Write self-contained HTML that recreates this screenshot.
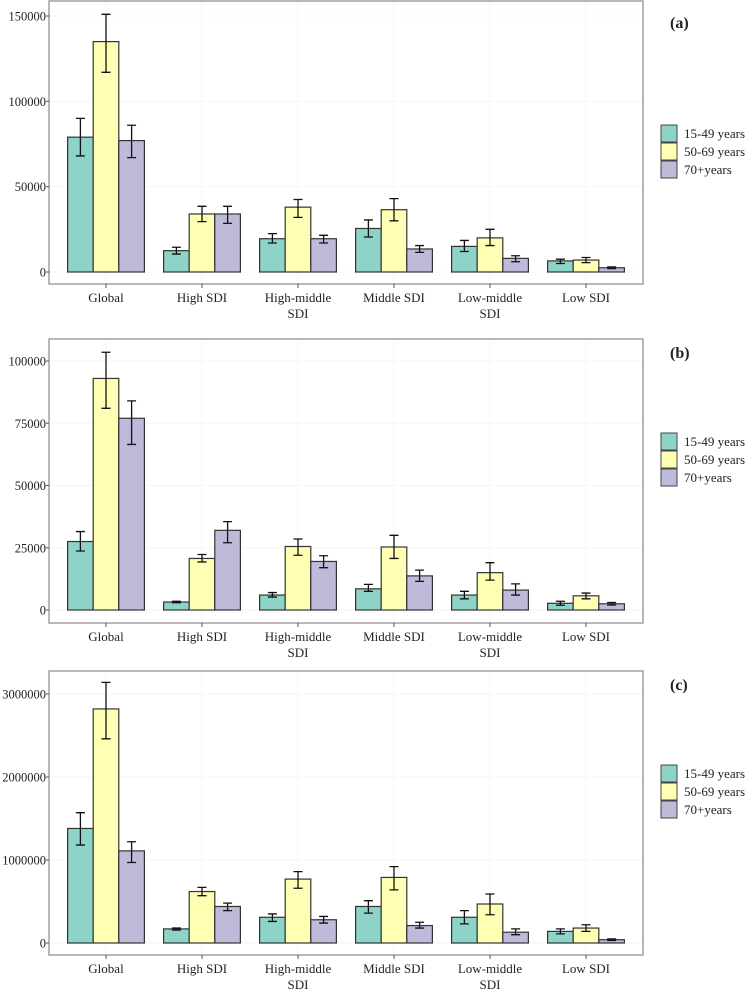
<!DOCTYPE html>
<html><head><meta charset="utf-8"><style>
body{margin:0;background:#fff}
svg text{font-family:"Liberation Serif",serif;fill:#222}
</style></head><body>
<svg id="chart" width="745" height="991" xmlns="http://www.w3.org/2000/svg"></svg>
<script>
const categories=["Global","High SDI","High-middle\nSDI","Middle SDI","Low-middle\nSDI","Low SDI"];
const seriesNames=["15-49 years","50-69 years","70+years"];
const colors=["#8dd3c7","#ffffb3","#bebada"];
const aVals=[[79000,12500,19500,25500,15000,6500],[135000,34000,38000,36500,20000,7000],[77000,34000,19500,13500,8000,2500]];
const aLo=[[68000,10500,17000,20500,12000,5000],[117000,29500,32000,30000,15500,5500],[67000,28500,17000,11500,6000,2000]];
const aHi=[[90000,14500,22500,30500,18500,7500],[151000,38500,42500,43000,25000,8500],[86000,38500,21500,15500,9500,3000]];
const aTicks=[0,50000,100000,150000];
const bVals=[[27500,3200,6000,8500,6000,2700],[93000,20700,25500,25300,15000,5700],[77000,32000,19500,13700,8000,2500]];
const bLo=[[23700,2900,5200,7500,4500,1900],[81000,19300,22000,20700,12000,4500],[66500,27000,17000,11500,6000,2000]];
const bHi=[[31500,3500,7000,10300,7500,3500],[103500,22300,28500,30000,19000,6800],[84000,35500,21800,16000,10500,3000]];
const bTicks=[0,25000,50000,75000,100000];
const cVals=[[1380000,170000,310000,440000,310000,140000],[2820000,620000,770000,790000,470000,180000],[1110000,440000,280000,210000,130000,40000]];
const cLo=[[1180000,155000,260000,360000,230000,110000],[2460000,570000,660000,640000,340000,140000],[970000,390000,240000,180000,100000,30000]];
const cHi=[[1570000,180000,350000,510000,390000,170000],[3140000,670000,860000,920000,590000,220000],[1220000,480000,320000,250000,170000,50000]];
const cTicks=[0,1000000,2000000,3000000];

const svg=document.getElementById('chart');
const NS="http://www.w3.org/2000/svg";
function mk(tag,attrs,parent){const e=document.createElementNS(NS,tag);for(const k in attrs)e.setAttribute(k,attrs[k]);(parent||svg).appendChild(e);return e;}

const panels=[
 {id:'a',vals:aVals,lo:aLo,hi:aHi,ticks:aTicks,top:1,bottom:284,y0:272,yTopVal:150000,yTopPx:16,legTop:125,lab:28},
 {id:'b',vals:bVals,lo:bLo,hi:bHi,ticks:bTicks,top:339,bottom:623,y0:610,yTopVal:100000,yTopPx:361,legTop:433,lab:358},
 {id:'c',vals:cVals,lo:cLo,hi:cHi,ticks:cTicks,top:671,bottom:955,y0:943,yTopVal:3000000,yTopPx:694,legTop:765,lab:690}
];
const L=49,R=643,step=96,x1=106,bw=25.6;
function xC(i){return x1+i*step;}
panels.forEach(p=>{
 const g=mk('g',{});
 
 
 const y=v=>p.y0-(v/p.yTopVal)*(p.y0-p.yTopPx);
 p.ticks.forEach(t=>{const l=mk('line',{x1:L,x2:R,y1:y(t),y2:y(t),stroke:'#f5f5f5','stroke-width':1},g);});
 categories.forEach((c,i)=>{mk('line',{x1:xC(i),x2:xC(i),y1:p.top,y2:p.bottom,stroke:'#f5f5f5','stroke-width':1},g);});
 for(let s=0;s<3;s++){
  for(let i=0;i<categories.length;i++){
   const bx=xC(i)-1.5*bw+s*bw;
   const r=mk('rect',{x:bx,y:y(p.vals[s][i]),width:bw,height:p.y0-y(p.vals[s][i]),fill:colors[s],stroke:'#333','stroke-width':1.2},g);
   
   
   const cx=bx+bw/2,yl=y(p.lo[s][i]),yh=y(p.hi[s][i]);
   const e=mk('path',{d:`M${cx} ${yl}V${yh}M${cx-4.5} ${yl}H${cx+4.5}M${cx-4.5} ${yh}H${cx+4.5}`,stroke:'#111','stroke-width':1.3,fill:'none'},g);
   
   
  }
 }
 const f=mk('rect',{x:L,y:p.top,width:R-L,height:p.bottom-p.top,fill:'none',stroke:'#888','stroke-width':1.2},g);
 
 
 p.ticks.forEach(t=>{
  mk('line',{x1:L-3,x2:L,y1:y(t),y2:y(t),stroke:'#555'},g);
  const tx=mk('text',{x:L-3,y:y(t)+4.5,'text-anchor':'end','font-size':12.5},g);
  tx.textContent=t;
  
  
 });
 categories.forEach((c,i)=>{
  mk('line',{x1:xC(i),x2:xC(i),y1:p.bottom,y2:p.bottom+4,stroke:'#555'},g);
  c.split('\n').forEach((ln,k)=>{
   const tx=mk('text',{x:xC(i),y:p.bottom+18+k*16,'text-anchor':'middle','font-size':13},g);
   tx.textContent=ln;
   
   
  });
 });
 const lb=mk('text',{x:670,y:p.lab,'font-size':16,'font-weight':'bold'},g);
 lb.textContent='('+p.id+')';
 
 
 seriesNames.forEach((n,s)=>{
  const k=mk('rect',{x:661,y:p.legTop+s*18,width:16,height:17,fill:colors[s],stroke:'#444','stroke-width':1},g);
  
  
  const t=mk('text',{x:684,y:p.legTop+s*18+13,'font-size':13},g);
  t.textContent=n;
  
  
 });
});
</script>
</body></html>
